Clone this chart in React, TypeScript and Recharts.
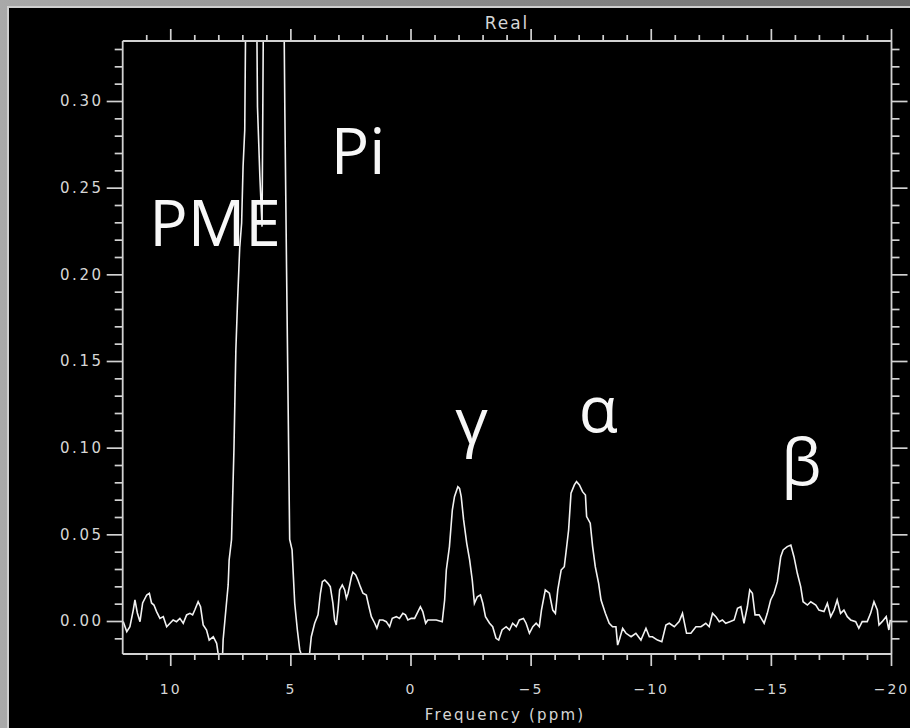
import { LineChart, Line, XAxis, YAxis, ReferenceDot } from "recharts";

// 31P spectrum, real part. Pairs are [ppm, intensity]
// left to right (high ppm first).
const leftBaseline: [number, number][] = [
  [11.98, 0.0], [11.83, -0.0059], [11.7, -0.003], [11.56, 0.0066], [11.49, 0.0124],
  [11.39, 0.0049], [11.28, -0.0001], [11.17, 0.0107], [11.0, 0.0153], [10.89, 0.0163],
  [10.8, 0.0107], [10.7, 0.0095], [10.59, 0.0057], [10.45, 0.0018], [10.31, 0.0028],
  [10.17, -0.003], [10.03, -0.001], [9.9, 0.0009], [9.76, -0.0001], [9.62, 0.0018],
  [9.48, -0.001], [9.34, 0.0038], [9.2, 0.0047], [9.09, 0.0038], [9.0, 0.0066],
  [8.86, 0.0114], [8.76, 0.0085], [8.65, -0.002], [8.51, -0.0049], [8.4, -0.0107],
  [8.23, -0.0088], [8.09, -0.0126], [8.03, -0.0182],
];

const pmePiRegion: [number, number][] = [
  [7.94, -0.024], [7.84, -0.0182], [7.82, -0.0107], [7.68, 0.0107], [7.61, 0.0211],
  [7.57, 0.0355], [7.47, 0.0473], [7.37, 0.0989], [7.29, 0.1566], [7.22, 0.1845],
  [7.13, 0.2155], [7.05, 0.2299], [6.99, 0.2624], [6.92, 0.2836], [6.85, 0.4],
  [6.63, 0.55], [6.46, 0.42], [6.39, 0.297], [6.29, 0.2566], [6.2, 0.2278],
  [6.12, 0.4], [5.67, 0.6], [5.33, 0.42], [5.25, 0.2932], [5.18, 0.2038],
  [5.05, 0.0473], [4.95, 0.0413], [4.84, 0.0105], [4.73, -0.0049], [4.63, -0.0164],
  [4.42, -0.025], [4.22, -0.0183], [4.15, -0.0088], [4.01, -0.001], [3.87, 0.0038],
  [3.77, 0.0163], [3.69, 0.023], [3.59, 0.0239], [3.46, 0.022], [3.36, 0.0201],
  [3.25, 0.0105], [3.18, 0.0009], [3.11, -0.002], [3.04, 0.0066], [2.97, 0.0182],
  [2.86, 0.0211], [2.76, 0.0182], [2.69, 0.0134], [2.62, 0.0163], [2.48, 0.0258],
  [2.42, 0.0284], [2.3, 0.0268], [2.21, 0.0239], [2.11, 0.0201], [2.0, 0.0163],
  [1.86, 0.0153], [1.75, 0.0085], [1.65, 0.0028], [1.51, -0.001], [1.42, -0.0039],
];

const centerBaseline: [number, number][] = [
  [1.31, 0.0009], [1.17, 0.0009], [1.03, -0.0001], [0.89, -0.003], [0.78, 0.0018],
  [0.61, 0.0028], [0.48, 0.0018], [0.34, 0.0047], [0.23, 0.0038], [0.13, 0.0009],
  [-0.01, 0.0018], [-0.15, 0.0018], [-0.29, 0.0057], [-0.39, 0.0085], [-0.49, 0.0057],
  [-0.61, -0.001], [-0.7, 0.0009], [-0.84, 0.0009], [-1.05, 0.0009], [-1.3, -0.0001],
];

const gammaPeak: [number, number][] = [
  [-1.4, 0.0124], [-1.47, 0.0297], [-1.6, 0.0432], [-1.72, 0.0643], [-1.81, 0.072],
  [-1.95, 0.0778], [-2.02, 0.0768], [-2.09, 0.072], [-2.19, 0.0586], [-2.32, 0.0451],
  [-2.44, 0.0355], [-2.55, 0.0239], [-2.64, 0.0105], [-2.76, 0.0143], [-2.89, 0.0153],
  [-2.99, 0.0105], [-3.1, 0.0028], [-3.27, -0.001], [-3.4, -0.003], [-3.54, -0.0097],
  [-3.65, -0.0107], [-3.79, -0.0049], [-3.96, -0.003], [-4.1, -0.0049], [-4.23, -0.001],
  [-4.38, -0.003], [-4.51, 0.0009], [-4.68, 0.0018], [-4.79, -0.001], [-4.93, -0.0068],
  [-5.07, -0.003], [-5.21, -0.001], [-5.34, -0.003],
];

const alphaPeak: [number, number][] = [
  [-5.43, 0.0066], [-5.59, 0.0182], [-5.76, 0.0163], [-5.9, 0.0066], [-6.01, 0.0047],
  [-6.11, 0.0182], [-6.25, 0.0297], [-6.38, 0.0316], [-6.48, 0.0432], [-6.56, 0.0528],
  [-6.66, 0.074], [-6.8, 0.0788], [-6.89, 0.0807], [-7.01, 0.0788], [-7.14, 0.0749],
  [-7.26, 0.073], [-7.31, 0.0605], [-7.46, 0.0567], [-7.56, 0.0432], [-7.67, 0.0316],
  [-7.81, 0.022], [-7.91, 0.0124], [-8.09, 0.0047], [-8.25, -0.001], [-8.39, -0.003],
  [-8.53, -0.003], [-8.6, -0.0136], [-8.67, -0.0107], [-8.81, -0.0039], [-8.95, -0.0068],
  [-9.16, -0.0088], [-9.36, -0.0068], [-9.57, -0.0107], [-9.78, -0.0039], [-9.92, -0.0088],
  [-10.05, -0.0088], [-10.26, -0.0107], [-10.44, -0.0117],
];

const rightBaseline: [number, number][] = [
  [-10.61, -0.002], [-10.75, -0.001], [-10.96, -0.003], [-11.16, -0.0001], [-11.3, 0.0047],
  [-11.47, -0.0068], [-11.65, -0.0068], [-11.86, -0.003], [-12.07, -0.003], [-12.27, -0.001],
  [-12.41, -0.003], [-12.55, 0.0047], [-12.69, 0.0028], [-12.83, -0.0001], [-12.96, 0.0009],
  [-13.1, -0.001], [-13.27, -0.0001], [-13.45, 0.0009], [-13.59, 0.0076], [-13.73, 0.0085],
  [-13.86, -0.001], [-14.0, 0.0085], [-14.1, 0.0182], [-14.21, 0.0163], [-14.32, 0.0038],
  [-14.49, 0.0038], [-14.7, -0.001], [-14.83, 0.0047],
];

const betaPeak: [number, number][] = [
  [-14.97, 0.0124], [-15.11, 0.0163], [-15.25, 0.023], [-15.39, 0.0374], [-15.49, 0.0413],
  [-15.66, 0.0432], [-15.81, 0.0441], [-15.94, 0.0374], [-16.08, 0.0278], [-16.22, 0.0201],
  [-16.32, 0.0114], [-16.5, 0.0095], [-16.64, 0.0114], [-16.85, 0.0095], [-16.98, 0.0066],
  [-17.19, 0.0057], [-17.33, 0.0105], [-17.47, 0.0028], [-17.61, 0.0066], [-17.74, 0.0124],
  [-17.88, 0.0047], [-18.02, 0.0066], [-18.16, 0.0028], [-18.3, 0.0009], [-18.51, -0.0001],
  [-18.64, -0.0039], [-18.78, -0.0001], [-18.99, -0.0001], [-19.13, 0.0047], [-19.27, 0.0114],
  [-19.41, 0.0066], [-19.48, -0.002], [-19.61, -0.0001], [-19.78, 0.0028], [-19.89, -0.0049],
  [-19.95, 0.0009],
];

const xMajorTicks = [10, 5, 0, -5, -10, -15, -20];
const xMinorTicks = [
  11, 9, 8, 7, 6, 4, 3, 2, 1, -1, -2, -3, -4, -6, -7, -8, -9,
  -11, -12, -13, -14, -16, -17, -18, -19,
];
const yMajorTicks = [0, 0.05, 0.1, 0.15, 0.2, 0.25, 0.3];
const yMajorLabels = ["0.00", "0.05", "0.10", "0.15", "0.20", "0.25", "0.30"];
const yMinorTicks = [
  -0.01, 0.01, 0.02, 0.03, 0.04, 0.06, 0.07, 0.08, 0.09, 0.11, 0.12, 0.13, 0.14,
  0.16, 0.17, 0.18, 0.19, 0.21, 0.22, 0.23, 0.24, 0.26, 0.27, 0.28, 0.29,
  0.31, 0.32, 0.33,
];

// peak names, anchored where they sit on the plot (ppm, intensity)
const peakLabels = [
  { text: "PME", ppm: 8.16, at: 0.2296 },
  { text: "Pi", ppm: 2.2, at: 0.2714 },
  { text: "γ", ppm: -2.52, at: 0.1153 },
  { text: "α", ppm: -7.8, at: 0.1224 },
  { text: "β", ppm: -16.25, at: 0.092 },
];

const X_DOMAIN: [number, number] = [-20, 12];
const Y_DOMAIN: [number, number] = [-0.01875, 0.3349];

const INK = "#f2f2f2";
const AXIS = "#d2d2d2";
const TICK_TEXT = {
  fontFamily: "DejaVu Sans",
  fontSize: 14,
  letterSpacing: 2,
  fill: "#d6d6d6",
};

const data = [
  ...leftBaseline,
  ...pmePiRegion,
  ...centerBaseline,
  ...gammaPeak,
  ...alphaPeak,
  ...rightBaseline,
  ...betaPeak,
].map(([ppm, real]) => ({ ppm, real }));

const xTicks = [...xMajorTicks, ...xMinorTicks].sort((a, b) => b - a);
const yTicks = [...yMajorTicks, ...yMinorTicks].sort((a, b) => a - b);

const isXMajor = (v: number) => xMajorTicks.includes(v);
const yMajorIndex = (v: number) =>
  yMajorTicks.findIndex((m) => Math.abs(m - v) < 1e-9);
const fmtPpm = (v: number) => (v < 0 ? `\u2212${Math.abs(v)}` : String(v));

function BottomTick(props: any) {
  const { x, y, payload } = props;
  const major = isXMajor(payload.value);
  return (
    <g>
      <line x1={x} y1={y} x2={x} y2={y + (major ? 12 : 6)} stroke={AXIS} strokeWidth={1.7} />
      {major && (
        <text x={x} y={y + 35} textAnchor="middle" dominantBaseline="central" {...TICK_TEXT}>
          {fmtPpm(payload.value)}
        </text>
      )}
    </g>
  );
}

function TopTick(props: any) {
  const { x, y, payload } = props;
  const major = isXMajor(payload.value);
  return <line x1={x} y1={y} x2={x} y2={y - (major ? 12 : 6)} stroke={AXIS} strokeWidth={1.7} />;
}

function LeftTick(props: any) {
  const { x, y, payload } = props;
  const idx = yMajorIndex(payload.value);
  const major = idx >= 0;
  return (
    <g>
      <line x1={x} y1={y} x2={x - (major ? 16 : 8)} y2={y} stroke={AXIS} strokeWidth={1.7} />
      {major && (
        <text
          x={x - 19}
          y={y}
          textAnchor="end"
          dominantBaseline="central"
          {...TICK_TEXT}
          fontSize={15}
          letterSpacing={2.6}
        >
          {yMajorLabels[idx]}
        </text>
      )}
    </g>
  );
}

function RightTick(props: any) {
  const { x, y, payload } = props;
  const major = yMajorIndex(payload.value) >= 0;
  return <line x1={x} y1={y} x2={x + (major ? 16 : 8)} y2={y} stroke={AXIS} strokeWidth={1.7} />;
}

export default function App() {
  return (
    <div
      style={{
        position: "absolute",
        left: 0,
        top: 0,
        width: 910,
        height: 728,
        overflow: "hidden",
        background: "linear-gradient(90deg, #a9a9a9, #6c6c6c)",
      }}
    >
      <div
        style={{
          position: "absolute",
          left: 7,
          top: 6,
          right: 0,
          bottom: 0,
          background: "#000",
          borderLeft: "2px solid #cfcfcf",
          borderTop: "2px solid #cfcfcf",
        }}
      />
      <div style={{ position: "absolute", left: 0, top: 0 }}>
        <LineChart
          width={910}
          height={728}
          data={data}
          margin={{ top: 31, right: 8.5, bottom: 34, left: 62.7 }}
        >
          <XAxis
            xAxisId="bottom"
            dataKey="ppm"
            type="number"
            domain={X_DOMAIN}
            reversed
            allowDataOverflow
            ticks={xTicks}
            interval={0}
            tickSize={0}
            tickMargin={0}
            tickLine={false}
            tick={BottomTick}
            axisLine={{ stroke: AXIS, strokeWidth: 1.8 }}
            height={40}
          />
          <XAxis
            xAxisId="top"
            dataKey="ppm"
            orientation="top"
            type="number"
            domain={X_DOMAIN}
            reversed
            allowDataOverflow
            ticks={xTicks}
            interval={0}
            tickSize={0}
            tickMargin={0}
            tickLine={false}
            tick={TopTick}
            axisLine={{ stroke: AXIS, strokeWidth: 1.8 }}
            height={10}
          />
          <YAxis
            yAxisId="left"
            type="number"
            domain={Y_DOMAIN}
            allowDataOverflow
            ticks={yTicks}
            interval={0}
            tickSize={0}
            tickMargin={0}
            tickLine={false}
            tick={LeftTick}
            axisLine={{ stroke: AXIS, strokeWidth: 1.8 }}
            width={60}
          />
          <YAxis
            yAxisId="right"
            orientation="right"
            type="number"
            domain={Y_DOMAIN}
            allowDataOverflow
            ticks={yTicks}
            interval={0}
            tickSize={0}
            tickMargin={0}
            tickLine={false}
            tick={RightTick}
            axisLine={{ stroke: AXIS, strokeWidth: 1.8 }}
            width={10}
          />
          <Line
            xAxisId="bottom"
            yAxisId="left"
            dataKey="real"
            type="linear"
            stroke={INK}
            strokeWidth={1.6}
            dot={false}
            activeDot={false}
            isAnimationActive={false}
          />
          {peakLabels.map((p) => (
            <ReferenceDot
              key={p.text}
              xAxisId="bottom"
              yAxisId="left"
              x={p.ppm}
              y={p.at}
              r={0}
              fill="none"
              stroke="none"
              label={{
                value: p.text,
                position: "center",
                fill: "#f7f7f7",
                fontSize: 64,
                fontFamily: "Open Sans",
              }}
            />
          ))}
        </LineChart>
      </div>
      <div
        style={{
          position: "absolute",
          left: 437,
          width: 140,
          top: 13,
          textAlign: "center",
          fontFamily: "DejaVu Sans",
          fontSize: 17,
          letterSpacing: 2,
          color: "#d6d6d6",
          lineHeight: "20px",
        }}
      >
        Real
      </div>
      <div
        style={{
          position: "absolute",
          left: 375,
          width: 260,
          top: 705,
          textAlign: "center",
          fontFamily: "DejaVu Sans",
          fontSize: 15,
          letterSpacing: 2.2,
          color: "#d6d6d6",
          lineHeight: "20px",
        }}
      >
        Frequency (ppm)
      </div>
    </div>
  );
}
